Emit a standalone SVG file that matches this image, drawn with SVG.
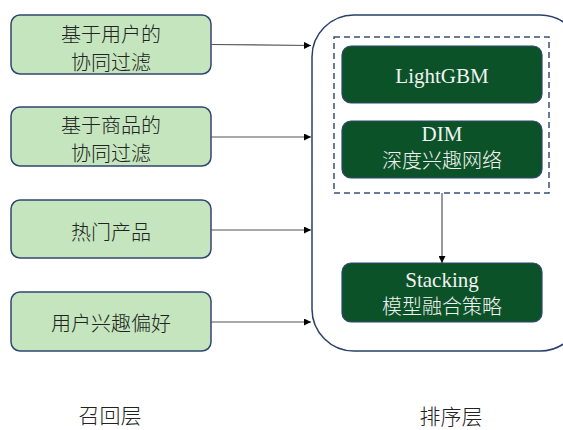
<svg xmlns="http://www.w3.org/2000/svg" width="563" height="430" viewBox="0 0 563 430">
  <style>
    .recall { fill: #c4e5bd; stroke: #2f4670; stroke-width: 1.5; }
    .model { fill: #0c5229; stroke: #2f4670; stroke-width: 1.2; }
    .cjk-dark { font-family: "Noto Sans CJK SC", sans-serif; font-size: 20px; fill: #222; text-anchor: middle; font-weight: 300; }
    .cjk-light { font-family: "Noto Sans CJK SC", sans-serif; font-size: 20px; fill: #f2f2f2; text-anchor: middle; font-weight: 300; }
    .latin-light { font-family: "Liberation Serif", "Times New Roman", serif; font-size: 21px; fill: #f2f2f2; text-anchor: middle; }
    .layer { font-family: "Noto Sans CJK SC", sans-serif; font-size: 21px; fill: #222; text-anchor: middle; font-weight: 300; }
    .link { stroke: #555; stroke-width: 1.2; fill: none; marker-end: url(#arrow); }
  </style>
  <defs>
    <marker id="arrow" viewBox="0 0 10 10" refX="10" refY="5" markerWidth="7" markerHeight="7" markerUnits="userSpaceOnUse" orient="auto">
      <path d="M0,0 L10,5 L0,10 z" fill="#000"/>
    </marker>
  </defs>

  <!-- ranking layer container -->
  <g id="ranking-container">
    <rect x="312" y="15" width="270" height="336" rx="42" ry="42" fill="#fff" stroke="#2a3f6b" stroke-width="1.5"/>
    <rect x="334" y="37" width="215" height="156" fill="none" stroke="#3a5078" stroke-width="1.5" stroke-dasharray="6 4"/>
  </g>

  <!-- recall sources -->
  <g id="user-cf">
    <rect class="recall" x="11" y="15" width="200" height="59" rx="9"/>
    <text class="cjk-dark" x="111" y="42">基于用户的<tspan x="111" dy="27.5">协同过滤</tspan></text>
  </g>
  <g id="item-cf">
    <rect class="recall" x="11" y="107" width="200" height="59" rx="9"/>
    <text class="cjk-dark" x="111" y="133">基于商品的<tspan x="111" dy="28">协同过滤</tspan></text>
  </g>
  <g id="hot-items">
    <rect class="recall" x="11" y="200" width="200" height="58" rx="9"/>
    <text class="cjk-dark" x="111" y="240">热门产品</text>
  </g>
  <g id="user-interest">
    <rect class="recall" x="11" y="292" width="200" height="59" rx="9"/>
    <text class="cjk-dark" x="111" y="331">用户兴趣偏好</text>
  </g>

  <!-- ranking models -->
  <g id="lightgbm">
    <rect class="model" x="342" y="46" width="200" height="57" rx="9"/>
    <text class="latin-light" x="442" y="83">LightGBM</text>
  </g>
  <g id="dim">
    <rect class="model" x="342" y="121" width="200" height="57" rx="9"/>
    <text class="latin-light" x="442" y="141">DIM<tspan class="cjk-light" x="442" dy="27">深度兴趣网络</tspan></text>
  </g>
  <g id="stacking">
    <rect class="model" x="342" y="263" width="200" height="59" rx="9"/>
    <text class="latin-light" x="442" y="287">Stacking<tspan class="cjk-light" x="442" dy="27">模型融合策略</tspan></text>
  </g>

  <!-- connectors -->
  <g id="connectors">
    <line class="link" x1="211" y1="44.5" x2="311" y2="45.5"/>
    <line class="link" x1="211" y1="137" x2="311" y2="137"/>
    <line class="link" x1="211" y1="230" x2="311" y2="230"/>
    <line class="link" x1="211" y1="322" x2="311" y2="322"/>
    <line class="link" x1="442" y1="193" x2="442" y2="263"/>
  </g>

  <!-- layer captions -->
  <text id="recall-label" class="layer" x="110" y="423">召回层</text>
  <text id="ranking-label" class="layer" x="451" y="424">排序层</text>
</svg>
